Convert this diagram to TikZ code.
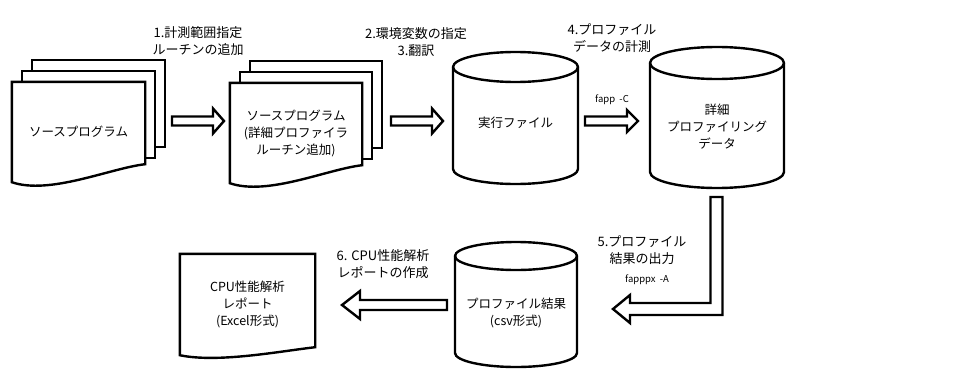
\documentclass[tikz,border=0pt]{standalone}
\usepackage{fontspec}
\setmainfont{Noto Sans CJK JP}
\usetikzlibrary{calc,backgrounds}

\tikzset{
  outline/.style={draw=black,line width=2.4pt,fill=white,line join=miter},
  docbox/.style={inner sep=0pt,align=center,font=\fontsize{12.5}{17}\selectfont},
  steplabel/.style={inner sep=0pt,align=center,font=\fontsize{13}{17}\selectfont},
  cmdlabel/.style={inner sep=0pt,font=\fontsize{9.5}{12}\selectfont}
}

% document outline around a node: #2 rise of the right end, #3 depth of the wave
\newcommand\docshape[3]{%
  \draw[outline] (#1.north west) -- (#1.north east) -- ($(#1.south east)+(0,-#2)$)
    .. controls ($(#1.south east)+(-35,-#2+4)$) and ($(#1.south west)+(38,#3)$)
    .. (#1.south west) -- cycle;}
% stack of three sheets
\newcommand\docstack[1]{%
  \draw[outline] ($(#1.north west)+(20,-22)$) rectangle ($(#1.south east)+(20,-35)$);
  \draw[outline] ($(#1.north west)+(10,-11)$) rectangle ($(#1.south east)+(10,-24)$);
  \docshape{#1}{18}{13}}
% cylinder round a text node: half width, reach above, reach below, lid radius
\newcommand\dbshape[5]{%
  \draw[outline] let \p0=(#1.center) in
    (\x0-#2pt,\y0+#3pt-#5pt) -- (\x0-#2pt,\y0-#4pt+#5pt)
    arc[start angle=180,end angle=360,x radius=#2pt,y radius=#5pt]
    -- (\x0+#2pt,\y0+#3pt-#5pt)
    arc[start angle=0,end angle=180,x radius=#2pt,y radius=#5pt] -- cycle;
  \draw[outline,fill=none] let \p0=(#1.center) in
    (\x0-#2pt,\y0+#3pt-#5pt)
    arc[start angle=180,end angle=360,x radius=#2pt,y radius=#5pt];}
% hollow block arrow: start, tip, sign, shaft half, head half, head length
\newcommand\blockarrow[6]{%
  \draw[outline] let \p1=(#1), \p2=(#2) in
    (\x1,\y1+#4pt) -- (\x2#3#6pt,\y1+#4pt) -- (\x2#3#6pt,\y1+#5pt) -- (\x2,\y2)
    -- (\x2#3#6pt,\y1-#5pt) -- (\x2#3#6pt,\y1-#4pt) -- (\x1,\y1-#4pt) -- cycle;}

\begin{document}
\begin{tikzpicture}[x=1pt,y=-1pt]
  \useasboundingbox (0,0) rectangle (973,388);

  % documents
  \node[docbox,minimum width=133pt,minimum height=100pt] (src) at (78.5,132)
    {ソースプログラム};
  \node[docbox,minimum width=132pt,minimum height=100pt] (prg) at (296,133)
    {ソースプログラム\\(詳細プロファイラ\\ルーチン追加)};
  \node[docbox,minimum width=135pt,minimum height=101pt] (rep) at (247.5,304.5)
    {CPU性能解析\\レポート\\(Excel形式)};

  % data stores
  \node[docbox] (exe) at (515.5,123) {実行ファイル};
  \node[docbox] (prof) at (717,127) {詳細\\プロファイリング\\データ};
  \node[docbox] (res) at (516,312.5) {プロファイル結果\\(csv形式)};

  \begin{scope}[on background layer]
    \docstack{src}
    \docstack{prg}
    \docshape{rep}{8}{8}
    \dbshape{exe}{62.5}{71}{61}{15}
    \dbshape{prof}{67}{80}{61}{16}
    \dbshape{res}{61}{70.5}{54.5}{14}
  \end{scope}

  % step labels
  \node[steplabel] (l1) at (198,41.5) {1.計測範囲指定\\ルーチンの追加};
  \node[steplabel] (l2) at (416,42) {2.環境変数の指定\\3.翻訳};
  \node[steplabel] (l4) at (612,38.5) {4.プロファイル\\データの計測};
  \node[cmdlabel] (c4) at (612,100) {fapp \ -C};
  \node[steplabel] (l5) at (642,250) {5.プロファイル\\結果の出力};
  \node[cmdlabel] (c5) at (647,280) {fapppx \ -A};
  \node[steplabel] (l6) at (383,264) {6. CPU性能解析\\レポートの作成};

  % arrows
  \coordinate (a1s) at (172,121); \coordinate (a1t) at (224,121);
  \coordinate (a2s) at (391,121); \coordinate (a2t) at (443,121);
  \coordinate (a4s) at (585,121); \coordinate (a4t) at (638,121);
  \coordinate (a6s) at (447,305); \coordinate (a6t) at (342,305);
  \coordinate (a5s) at (716.5,197); \coordinate (a5t) at (613,309);
  \blockarrow{a1s}{a1t}{-}{4.5}{12.5}{11}
  \blockarrow{a2s}{a2t}{-}{4.5}{12.5}{11}
  \blockarrow{a4s}{a4t}{-}{4.5}{11}{11}
  \blockarrow{a6s}{a6t}{+}{5}{14}{18}
  \draw[outline] let \p1=(a5s), \p2=(a5t) in
    (\x1-6pt,\y1) -- (\x1+6pt,\y1) -- (\x1+6pt,\y2-6pt) -- (\x2+17pt,\y2-6pt)
    -- (\x2+17pt,\y2-14pt) -- (\x2,\y2) -- (\x2+17pt,\y2+14pt)
    -- (\x2+17pt,\y2+6pt) -- (\x1-6pt,\y2+6pt) -- cycle;
\end{tikzpicture}
\end{document}
